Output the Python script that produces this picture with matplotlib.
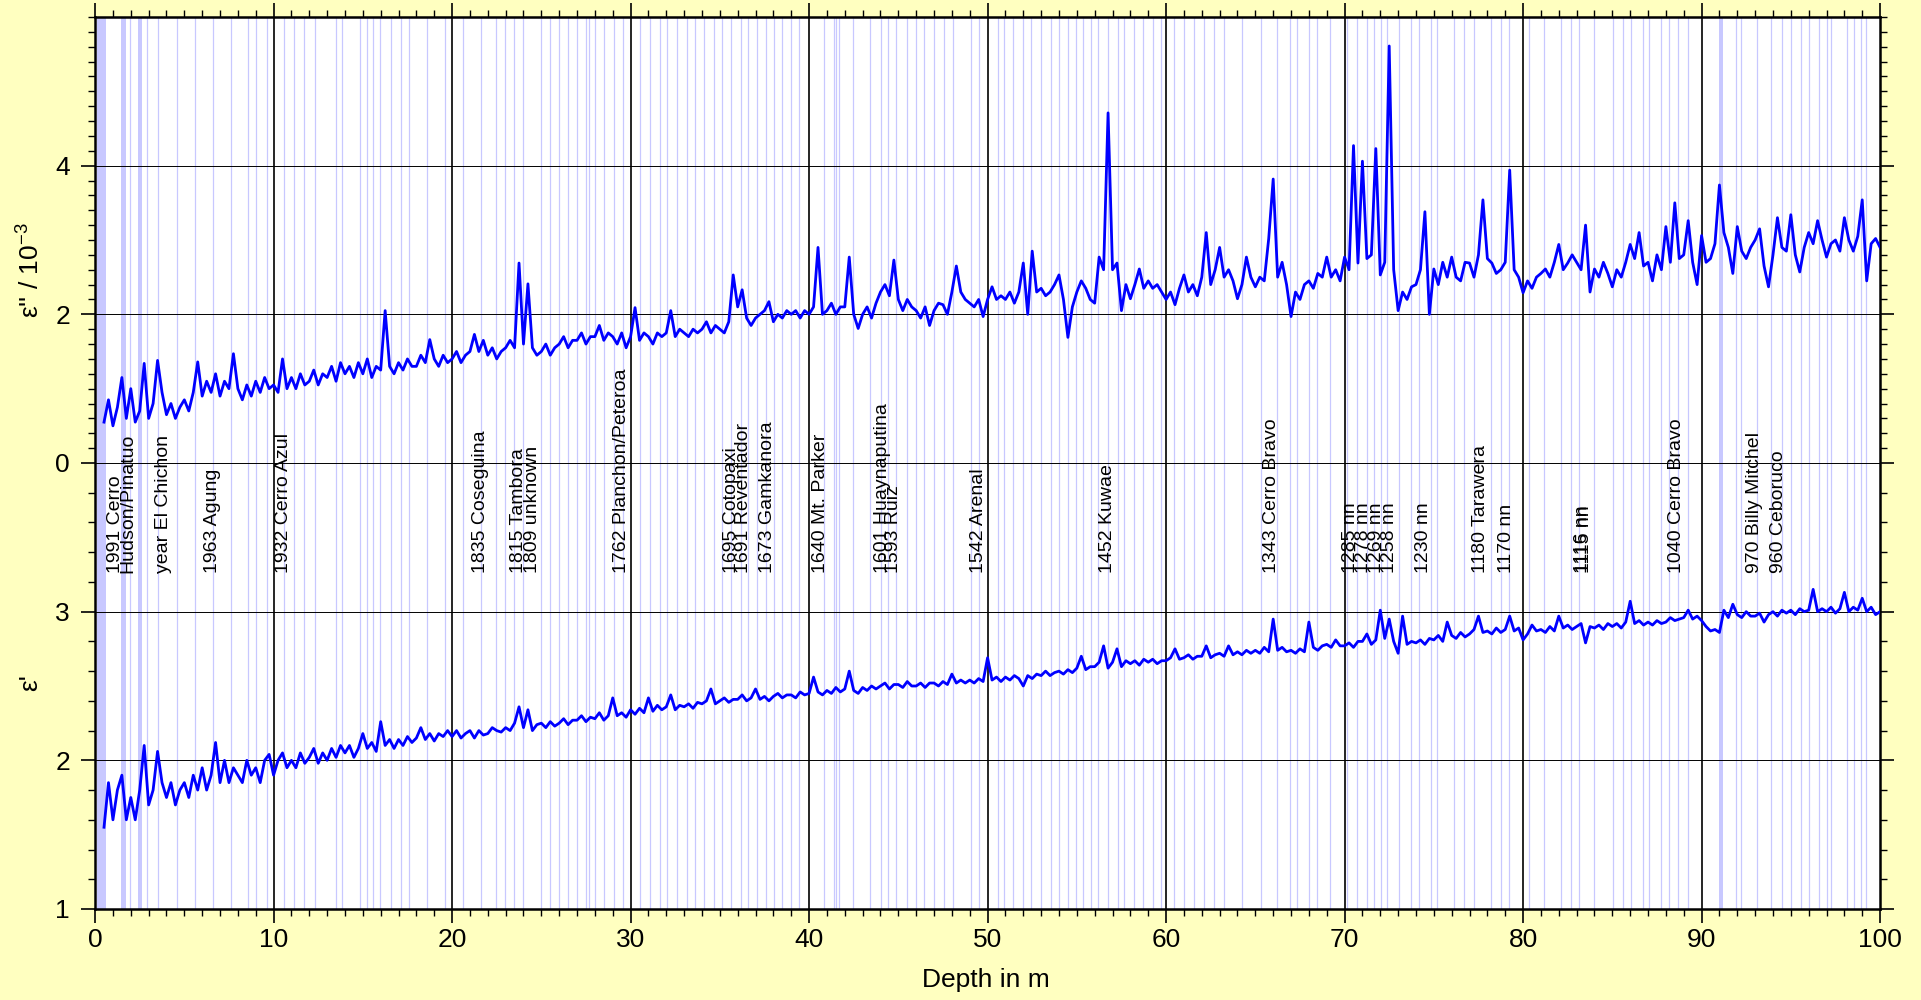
import numpy as np
import matplotlib
matplotlib.use("Agg")
import matplotlib.pyplot as plt

plt.rcParams['font.family'] = ['Liberation Sans', 'DejaVu Sans']
plt.rcParams['mathtext.fontset'] = 'custom'
plt.rcParams['mathtext.rm'] = 'Liberation Sans'

# depth grid of the profile (m)
depth = np.arange(0.5, 100.001, 0.25)

# eps'' / 1e-3, 4 samples per metre (row = metre)
eps2 = [
    0.55, 0.85,
    0.50, 0.75, 1.15, 0.60,   # 1
    1.00, 0.55, 0.70, 1.34,   # 2
    0.60, 0.80, 1.38, 0.95,   # 3
    0.65, 0.80, 0.60, 0.75,   # 4
    0.85, 0.70, 0.95, 1.36,   # 5
    0.90, 1.10, 0.95, 1.20,   # 6
    0.90, 1.10, 1.00, 1.47,   # 7
    1.00, 0.85, 1.05, 0.90,   # 8
    1.10, 0.95, 1.15, 1.00,   # 9
    1.05, 0.95, 1.40, 1.00,   # 10
    1.15, 1.00, 1.20, 1.05,   # 11
    1.10, 1.25, 1.05, 1.20,   # 12
    1.15, 1.30, 1.10, 1.35,   # 13
    1.20, 1.30, 1.15, 1.35,   # 14
    1.20, 1.40, 1.15, 1.30,   # 15
    1.25, 2.05, 1.30, 1.20,   # 16
    1.35, 1.25, 1.40, 1.30,   # 17
    1.30, 1.45, 1.35, 1.66,   # 18
    1.40, 1.30, 1.45, 1.35,   # 19
    1.40, 1.50, 1.35, 1.45,   # 20
    1.50, 1.73, 1.50, 1.65,   # 21
    1.45, 1.55, 1.40, 1.50,   # 22
    1.55, 1.65, 1.55, 2.69,   # 23
    1.60, 2.41, 1.55, 1.45,   # 24
    1.50, 1.60, 1.45, 1.55,   # 25
    1.60, 1.70, 1.55, 1.65,   # 26
    1.65, 1.75, 1.60, 1.70,   # 27
    1.70, 1.85, 1.65, 1.75,   # 28
    1.70, 1.60, 1.75, 1.55,   # 29
    1.70, 2.09, 1.65, 1.75,   # 30
    1.70, 1.60, 1.75, 1.70,   # 31
    1.75, 2.05, 1.70, 1.80,   # 32
    1.75, 1.70, 1.80, 1.75,   # 33
    1.80, 1.90, 1.75, 1.85,   # 34
    1.80, 1.75, 1.90, 2.53,   # 35
    2.10, 2.33, 1.95, 1.85,   # 36
    1.95, 2.00, 2.05, 2.17,   # 37
    1.90, 2.00, 1.95, 2.05,   # 38
    2.00, 2.05, 1.95, 2.05,   # 39
    2.00, 2.10, 2.90, 2.00,   # 40
    2.05, 2.15, 2.00, 2.10,   # 41
    2.10, 2.77, 2.00, 1.81,   # 42
    2.00, 2.10, 1.95, 2.15,   # 43
    2.30, 2.40, 2.25, 2.73,   # 44
    2.20, 2.05, 2.20, 2.10,   # 45
    2.05, 1.95, 2.10, 1.85,   # 46
    2.05, 2.15, 2.13, 2.00,   # 47
    2.30, 2.65, 2.30, 2.20,   # 48
    2.15, 2.10, 2.20, 1.97,   # 49
    2.20, 2.37, 2.20, 2.25,   # 50
    2.20, 2.30, 2.15, 2.30,   # 51
    2.69, 2.00, 2.85, 2.30,   # 52
    2.35, 2.25, 2.30, 2.40,   # 53
    2.53, 2.20, 1.69, 2.10,   # 54
    2.30, 2.45, 2.35, 2.20,   # 55
    2.15, 2.77, 2.60, 4.71,   # 56
    2.60, 2.69, 2.05, 2.40,   # 57
    2.21, 2.40, 2.61, 2.35,   # 58
    2.45, 2.35, 2.40, 2.30,   # 59
    2.20, 2.30, 2.13, 2.35,   # 60
    2.53, 2.30, 2.40, 2.25,   # 61
    2.50, 3.10, 2.40, 2.60,   # 62
    2.90, 2.50, 2.60, 2.45,   # 63
    2.21, 2.40, 2.77, 2.50,   # 64
    2.37, 2.50, 2.45, 3.02,   # 65
    3.82, 2.50, 2.70, 2.40,   # 66
    1.97, 2.30, 2.20, 2.40,   # 67
    2.45, 2.35, 2.55, 2.50,   # 68
    2.77, 2.50, 2.60, 2.45,   # 69
    2.77, 2.60, 4.27, 2.69,   # 70
    4.06, 2.75, 2.80, 4.23,   # 71
    2.53, 2.70, 5.61, 2.60,   # 72
    2.05, 2.30, 2.20, 2.37,   # 73
    2.40, 2.60, 3.38, 2.00,   # 74
    2.61, 2.40, 2.70, 2.50,   # 75
    2.77, 2.50, 2.45, 2.70,   # 76
    2.69, 2.50, 2.80, 3.54,   # 77
    2.75, 2.69, 2.55, 2.60,   # 78
    2.70, 3.94, 2.60, 2.50,   # 79
    2.29, 2.45, 2.35, 2.50,   # 80
    2.55, 2.61, 2.50, 2.70,   # 81
    2.94, 2.60, 2.69, 2.80,   # 82
    2.70, 2.60, 3.20, 2.30,   # 83
    2.61, 2.50, 2.70, 2.55,   # 84
    2.37, 2.60, 2.50, 2.70,   # 85
    2.94, 2.75, 3.10, 2.65,   # 86
    2.70, 2.45, 2.80, 2.60,   # 87
    3.18, 2.70, 3.50, 2.75,   # 88
    2.80, 3.26, 2.70, 2.40,   # 89
    3.06, 2.70, 2.75, 2.95,   # 90
    3.74, 3.10, 2.90, 2.55,   # 91
    3.18, 2.85, 2.75, 2.90,   # 92
    3.00, 3.15, 2.65, 2.37,   # 93
    2.80, 3.30, 2.90, 2.85,   # 94
    3.34, 2.80, 2.57, 2.90,   # 95
    3.10, 2.95, 3.26, 3.00,   # 96
    2.77, 2.95, 3.00, 2.85,   # 97
    3.30, 3.00, 2.85, 3.05,   # 98
    3.54, 2.45, 2.95, 3.02,   # 99
    2.90,
]

# eps', same grid
eps1 = [
    1.55, 1.85,
    1.60, 1.80, 1.90, 1.60,   # 1
    1.75, 1.60, 1.80, 2.10,   # 2
    1.70, 1.80, 2.06, 1.85,   # 3
    1.75, 1.85, 1.70, 1.80,   # 4
    1.85, 1.75, 1.90, 1.80,   # 5
    1.95, 1.80, 1.90, 2.12,   # 6
    1.85, 2.00, 1.85, 1.95,   # 7
    1.90, 1.85, 2.00, 1.90,   # 8
    1.95, 1.85, 2.00, 2.04,   # 9
    1.90, 2.00, 2.05, 1.95,   # 10
    2.00, 1.95, 2.05, 1.98,   # 11
    2.02, 2.08, 1.98, 2.05,   # 12
    2.00, 2.08, 2.02, 2.10,   # 13
    2.05, 2.10, 2.02, 2.08,   # 14
    2.18, 2.08, 2.12, 2.06,   # 15
    2.26, 2.10, 2.14, 2.08,   # 16
    2.14, 2.10, 2.16, 2.12,   # 17
    2.15, 2.22, 2.14, 2.18,   # 18
    2.13, 2.18, 2.16, 2.20,   # 19
    2.16, 2.20, 2.15, 2.18,   # 20
    2.20, 2.15, 2.20, 2.17,   # 21
    2.18, 2.22, 2.20, 2.19,   # 22
    2.22, 2.20, 2.25, 2.36,   # 23
    2.22, 2.34, 2.20, 2.24,   # 24
    2.25, 2.22, 2.26, 2.23,   # 25
    2.25, 2.28, 2.24, 2.27,   # 26
    2.27, 2.30, 2.26, 2.29,   # 27
    2.28, 2.32, 2.27, 2.30,   # 28
    2.42, 2.30, 2.32, 2.29,   # 29
    2.34, 2.31, 2.35, 2.32,   # 30
    2.42, 2.33, 2.37, 2.34,   # 31
    2.36, 2.44, 2.34, 2.37,   # 32
    2.36, 2.38, 2.35, 2.39,   # 33
    2.38, 2.40, 2.48, 2.38,   # 34
    2.40, 2.42, 2.39, 2.41,   # 35
    2.41, 2.44, 2.40, 2.42,   # 36
    2.48, 2.41, 2.43, 2.40,   # 37
    2.43, 2.45, 2.42, 2.44,   # 38
    2.44, 2.42, 2.46, 2.44,   # 39
    2.45, 2.56, 2.46, 2.44,   # 40
    2.47, 2.45, 2.49, 2.46,   # 41
    2.48, 2.60, 2.47, 2.45,   # 42
    2.49, 2.47, 2.50, 2.48,   # 43
    2.50, 2.52, 2.48, 2.51,   # 44
    2.51, 2.49, 2.53, 2.50,   # 45
    2.50, 2.52, 2.49, 2.52,   # 46
    2.52, 2.50, 2.53, 2.51,   # 47
    2.58, 2.52, 2.54, 2.52,   # 48
    2.54, 2.52, 2.55, 2.53,   # 49
    2.69, 2.54, 2.56, 2.53,   # 50
    2.56, 2.54, 2.57, 2.55,   # 51
    2.50, 2.57, 2.55, 2.58,   # 52
    2.57, 2.60, 2.57, 2.59,   # 53
    2.60, 2.58, 2.61, 2.59,   # 54
    2.62, 2.70, 2.61, 2.63,   # 55
    2.63, 2.66, 2.77, 2.62,   # 56
    2.66, 2.75, 2.63, 2.67,   # 57
    2.65, 2.67, 2.64, 2.68,   # 58
    2.66, 2.68, 2.65, 2.67,   # 59
    2.67, 2.69, 2.75, 2.68,   # 60
    2.69, 2.71, 2.68, 2.70,   # 61
    2.70, 2.77, 2.69, 2.71,   # 62
    2.72, 2.70, 2.77, 2.71,   # 63
    2.73, 2.71, 2.74, 2.72,   # 64
    2.74, 2.72, 2.76, 2.73,   # 65
    2.95, 2.74, 2.76, 2.73,   # 66
    2.74, 2.72, 2.75, 2.73,   # 67
    2.93, 2.76, 2.74, 2.77,   # 68
    2.78, 2.76, 2.81, 2.77,   # 69
    2.77, 2.79, 2.76, 2.80,   # 70
    2.80, 2.85, 2.78, 2.81,   # 71
    3.01, 2.82, 2.95, 2.80,   # 72
    2.72, 2.97, 2.78, 2.80,   # 73
    2.79, 2.81, 2.78, 2.82,   # 74
    2.81, 2.84, 2.80, 2.93,   # 75
    2.84, 2.82, 2.86, 2.83,   # 76
    2.85, 2.88, 2.97, 2.86,   # 77
    2.87, 2.85, 2.89, 2.86,   # 78
    2.88, 2.97, 2.87, 2.89,   # 79
    2.81, 2.85, 2.91, 2.87,   # 80
    2.88, 2.86, 2.90, 2.87,   # 81
    2.97, 2.89, 2.91, 2.88,   # 82
    2.90, 2.92, 2.79, 2.90,   # 83
    2.89, 2.91, 2.88, 2.92,   # 84
    2.90, 2.92, 2.89, 2.93,   # 85
    3.07, 2.92, 2.94, 2.91,   # 86
    2.93, 2.91, 2.94, 2.92,   # 87
    2.93, 2.96, 2.94, 2.95,   # 88
    2.96, 3.01, 2.95, 2.97,   # 89
    2.94, 2.90, 2.87, 2.88,   # 90
    2.86, 3.01, 2.96, 3.05,   # 91
    2.98, 2.96, 3.00, 2.97,   # 92
    2.97, 2.99, 2.93, 2.98,   # 93
    3.00, 2.97, 3.01, 2.99,   # 94
    3.01, 2.98, 3.02, 3.00,   # 95
    3.01, 3.15, 3.00, 3.02,   # 96
    3.00, 3.03, 2.99, 3.02,   # 97
    3.13, 3.00, 3.03, 3.01,   # 98
    3.09, 3.00, 3.03, 2.98,   # 99
    3.00,
]
assert len(eps1) == len(eps2) == len(depth)

# volcanic events
event_depth = [1.16, 1.83, 3.81, 6.6, 10.57, 21.6, 23.7, 24.5, 29.5, 35.66, 36.33,
               37.66, 40.65, 44.13, 44.75, 49.51, 56.71, 65.9, 70.34, 71.05, 71.76,
               72.49, 74.4, 77.6, 79.07, 83.35, 83.45, 88.6, 92.98, 94.3]
event_label = ["1991 Cerro", "Hudson/Pinatuo", "year El Chichon", "1963 Agung",
               "1932 Cerro Azul", "1835 Coseguina", "1815 Tambora", "1809 unknown",
               "1762 Planchon/Peteroa", "1695 Cotopaxi", "1691 Reventador",
               "1673 Gamkanora", "1640 Mt. Parker", "1601 Huaynaputina", "1593 Ruiz",
               "1542 Arenal", "1452 Kuwae", "1343 Cerro Bravo", "1285 nn", "1278 nn",
               "1269 nn", "1258 nn", "1230 nn", "1180 Tarawera", "1170 nn", "1116 nn",
               "1115 nn", "1040 Cerro Bravo", "970 Billy Mitchel", "960 Ceboruco"]

# light blue marker lines (m) and wider marker bands
marker_lines = [1.93, 2.93, 3.55, 4.58, 5.57, 6.58, 7.59, 8.58, 9.0, 9.63, 10.56, 11.12,
                11.68, 12.3, 13.5, 13.83, 14.82, 15.23, 15.57, 15.94, 16.58, 17.14, 17.57,
                18.6, 19.59, 20.62, 21.63, 22.47, 22.99, 23.46, 24.0, 24.97, 25.48, 25.98,
                26.5, 27.0, 27.5, 27.66, 28.02, 28.5, 29.08, 29.55, 30.52, 31.08, 31.63,
                32.06, 32.62, 33.18, 33.59, 34.11, 34.67, 35.14, 35.61, 36.17, 36.58,
                37.1, 37.57, 38.02, 38.5, 39.0, 39.44, 40.84, 41.4, 41.51, 41.7, 42.44,
                43.43, 44.03, 44.44, 44.87, 45.49, 45.99, 46.42, 47.01, 47.57, 48.04,
                49.07, 49.53, 50.56, 50.93, 51.4, 51.96, 52.43, 52.99, 53.54, 54.01,
                54.48, 54.94, 55.32, 55.78, 56.16, 56.72, 57.28, 57.65, 58.21, 58.68,
                59.24, 59.7, 60.45, 61.01, 61.57, 62.13, 62.67, 63.23, 64.26, 65.29,
                66.22, 66.97, 67.35, 68.0, 68.47, 69.21, 70.15, 70.71, 71.27, 71.64,
                72.02, 72.39, 73.05, 73.7, 74.17, 74.82, 75.2, 76.13, 76.69, 77.25,
                78.19, 78.75, 79.21, 80.34, 81.18, 82.11, 82.67, 83.15, 83.96, 85.02,
                85.58, 86.04, 86.7, 87.07, 87.72, 88.19, 88.66, 89.22, 91.92, 92.2,
                93.13, 93.88, 94.53, 95.0, 95.56, 96.03, 96.59, 97.05, 97.24, 98.17,
                98.54, 98.92, 99.2]
band_start = [0.1, 1.45, 2.42, 90.98]
band_end = [0.6, 1.72, 2.62, 91.18]

fig = plt.figure(figsize=(19.21, 10), dpi=100, facecolor="#ffffc0")
ax = fig.add_axes([0.0495, 0.091, 0.9292, 0.892])
ax.set_facecolor("white")
ax.set_xlim(0, 100)
ax.set_ylim(1, 7)

for d in marker_lines:
    ax.axvline(d, color="#c8c8ff", lw=0.9, zorder=1)
for a, b in zip(band_start, band_end):
    ax.axvspan(a, b, color="#c8c8ff", lw=0, zorder=1)
for x in range(10, 100, 10):
    ax.axvline(x, color="black", lw=1.2, zorder=2)
for y in [2, 3, 4, 5, 6]:
    ax.axhline(y, color="black", lw=0.7, zorder=2)

# eps' plotted directly, eps'' mapped onto upper half (0 -> 4, 2 per unit)
ax.plot(depth, eps1, color="#0000ff", lw=2.0, zorder=3)
ax.plot(depth, 4 + np.array(eps2) / 2, color="#0000ff", lw=2.0, zorder=3)

for d, lab in zip(event_depth, event_label):
    ax.text(d, 3.26, lab, rotation=90, ha="center", va="bottom", fontsize=14, zorder=4)

ax.set_xticks(range(0, 101, 10))
ax.set_xticks(range(0, 101, 1), minor=True)
ax.set_yticks([1, 2, 3, 4, 5, 6])
ax.set_yticklabels(["1", "2", "3", "0", "2", "4"])
ax.set_yticks(np.concatenate([np.arange(1, 4, 0.2), np.arange(4, 7.01, 0.1)]), minor=True)
ax.tick_params(which="both", direction="out", top=True, right=True, labelsize=19)
ax.tick_params(which="major", length=10, width=1.2)
ax.tick_params(which="minor", length=5, width=1.0)
ax.tick_params(axis="y", pad=8)
for s in ax.spines.values():
    s.set_linewidth(1.8)

fig.text(0.0156, 0.73, "ε'' / 10$^{-3}$", rotation=90, ha="center", va="center", fontsize=19)
fig.text(0.0156, 0.317, "ε'", rotation=90, ha="center", va="center", fontsize=19)
fig.text(0.513, 0.02, "Depth in m", ha="center", va="center", fontsize=19)

fig.savefig("out.png", dpi=100, facecolor=fig.get_facecolor())
